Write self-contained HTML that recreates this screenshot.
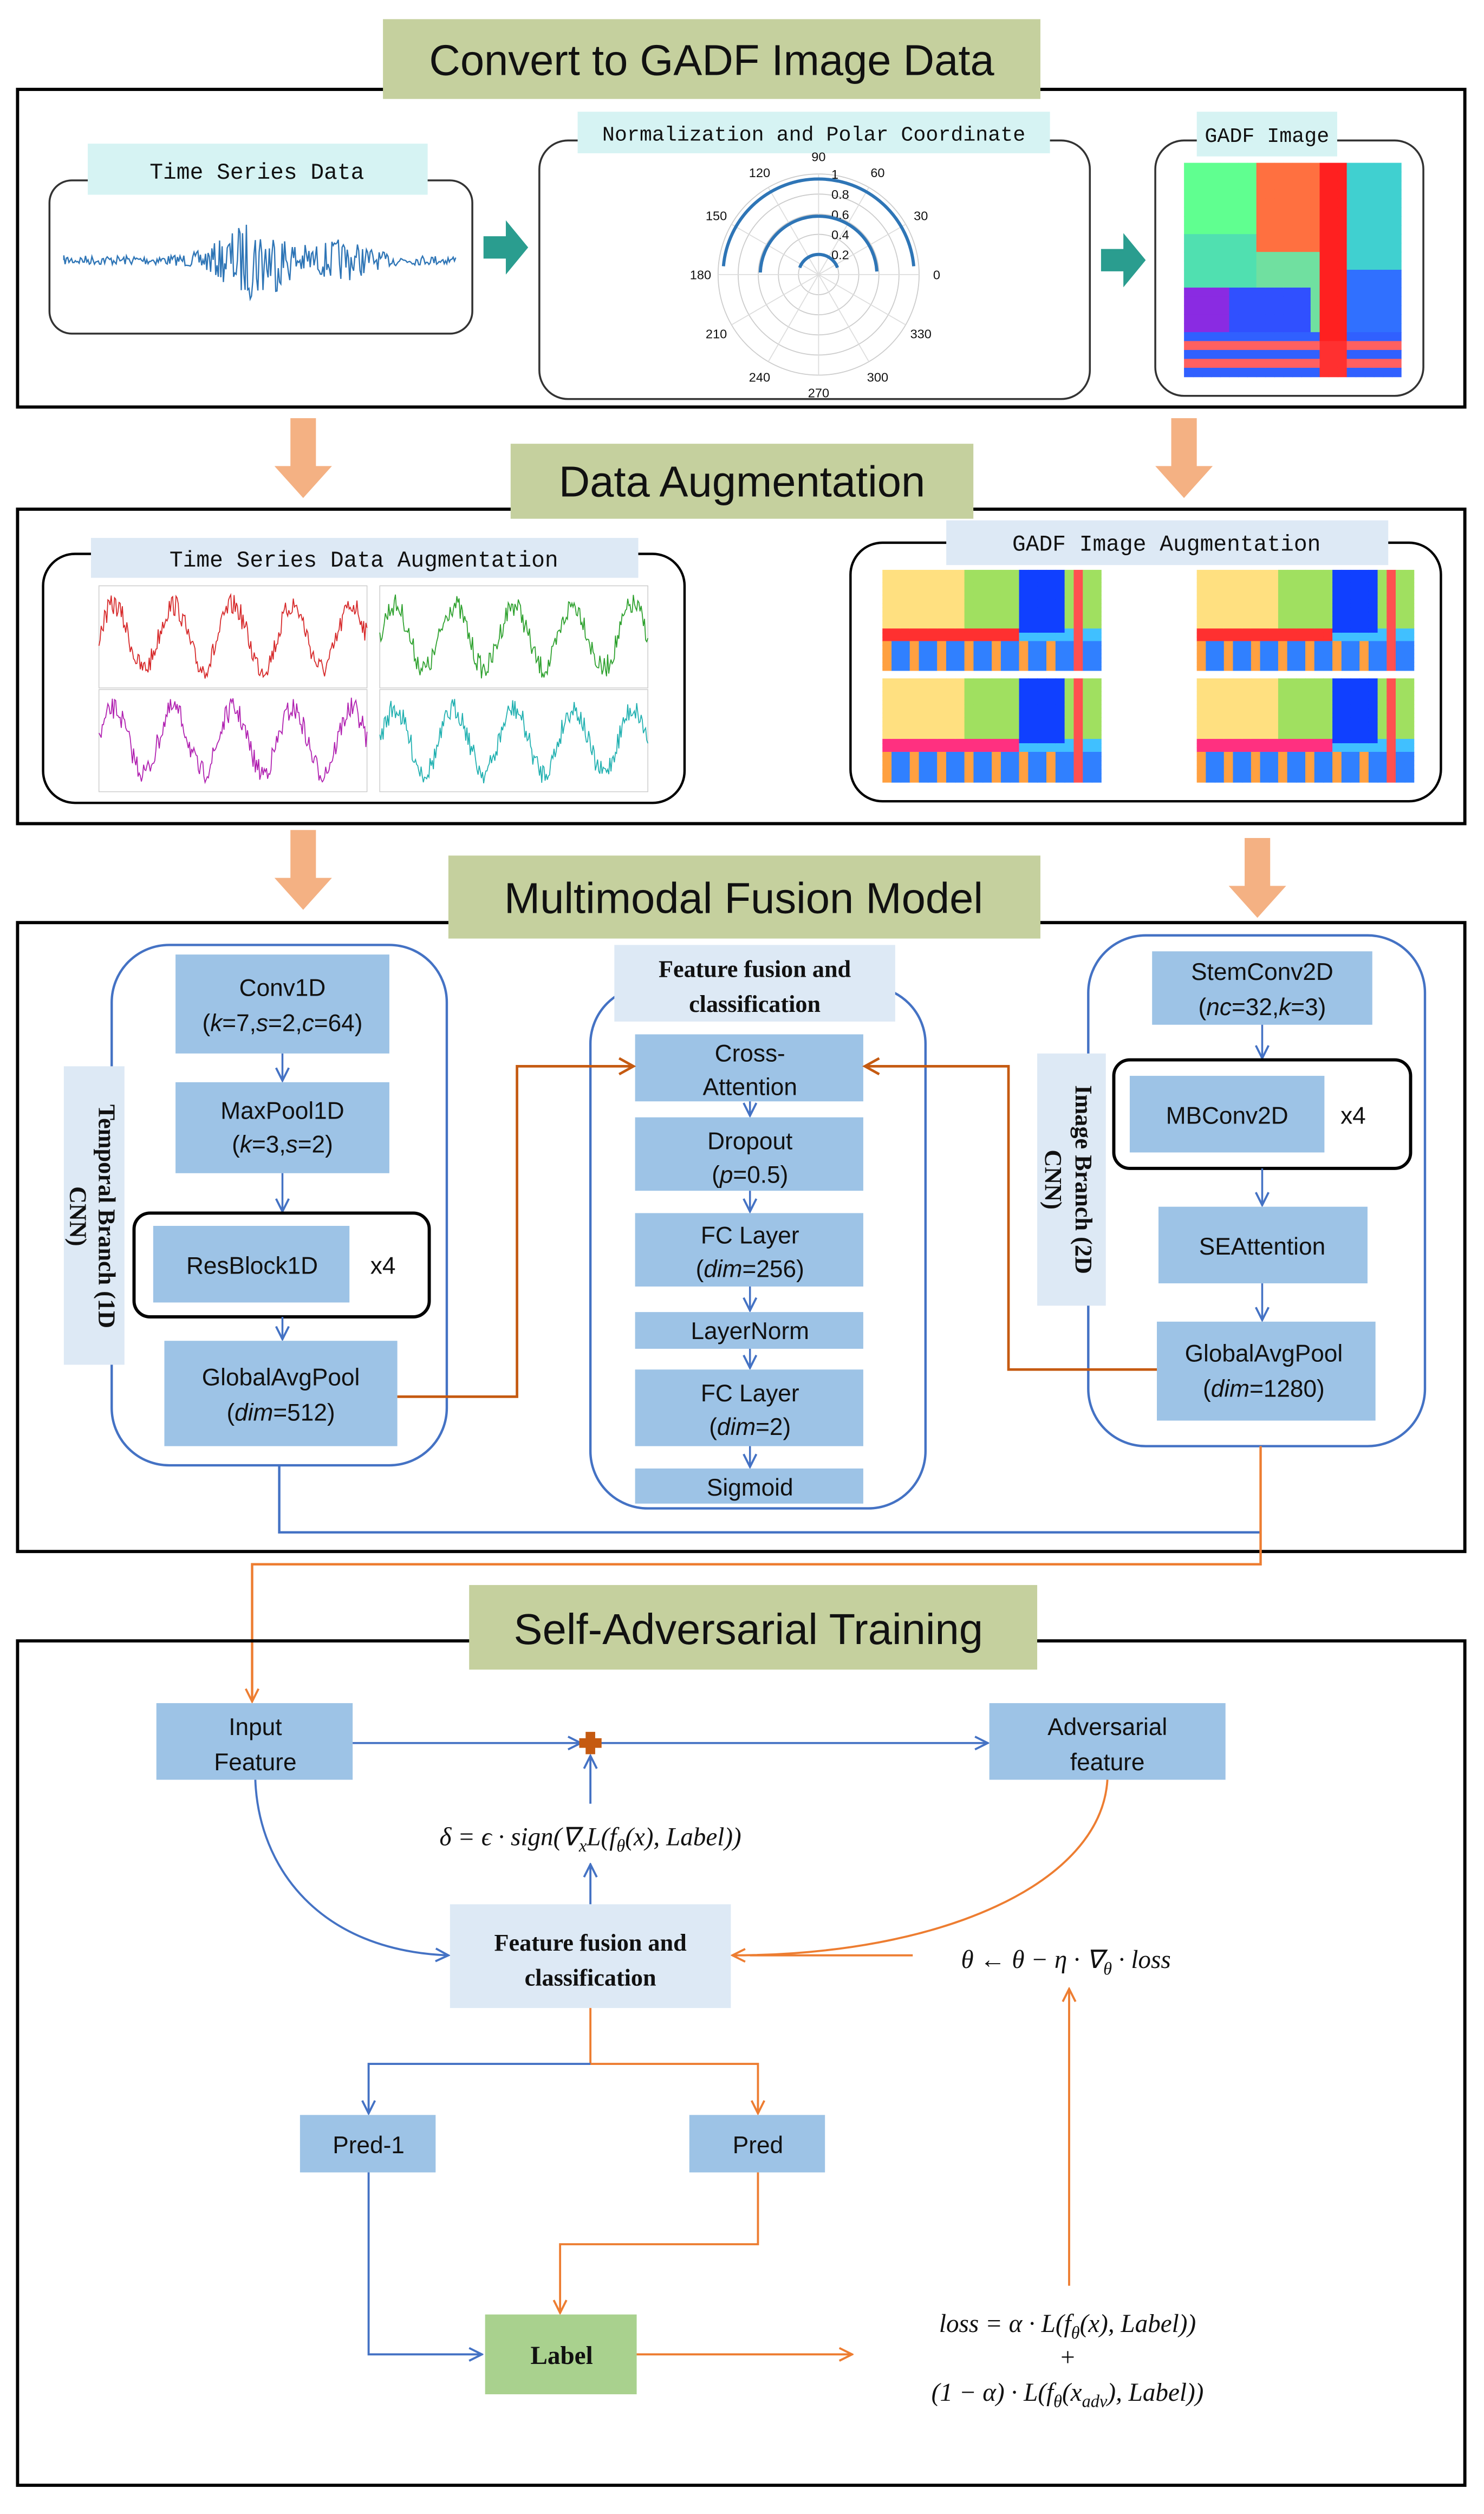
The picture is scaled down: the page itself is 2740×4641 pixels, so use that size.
<!DOCTYPE html>
<html><head><meta charset="utf-8">
<style>
html,body{margin:0;padding:0;background:#fff}
svg{display:block}
.t{font-family:"Liberation Sans Narrow","Liberation Sans",sans-serif;fill:#111}
.s{font-family:"Liberation Serif",serif;font-weight:bold;fill:#111}
.m{font-family:"Liberation Mono",monospace;fill:#111}
.f{font-family:"Liberation Serif",serif;font-style:italic;fill:#111}
.h{font-family:"Liberation Sans",sans-serif;fill:#111}
</style></head><body>
<svg id="sv" width="2740" height="4641" viewBox="0 0 930 1575" preserveAspectRatio="none" xmlns="http://www.w3.org/2000/svg">
<defs>
<marker id="ab" markerWidth="10" markerHeight="10" refX="9" refY="5" orient="auto" markerUnits="userSpaceOnUse"><path d="M1,1 L9,5 L1,9" fill="none" stroke="#4472c4" stroke-width="1.3"/></marker>
<marker id="ao" markerWidth="10" markerHeight="10" refX="9" refY="5" orient="auto" markerUnits="userSpaceOnUse"><path d="M1,1 L9,5 L1,9" fill="none" stroke="#ed7d31" stroke-width="1.3"/></marker>
<marker id="ar" markerWidth="12" markerHeight="12" refX="10" refY="6" orient="auto" markerUnits="userSpaceOnUse"><path d="M1,1 L10,6 L1,11" fill="none" stroke="#c55a11" stroke-width="1.6"/></marker>
</defs>
<rect width="930" height="1575" fill="#fff"/>

<!-- Section 1 -->
<rect x="11" y="56" width="907" height="199" fill="none" stroke="#000" stroke-width="2"/>
<rect x="240" y="12" width="412" height="50" fill="#c5d09e"/>
<text x="446" y="47" text-anchor="middle" class="h" font-size="27">Convert to GADF Image Data</text>

<rect x="31" y="113" width="265" height="96" rx="14" fill="#fff" stroke="#333" stroke-width="1.2"/>
<rect x="55" y="90" width="213" height="32" fill="#d6f3f3"/>
<text x="161" y="112" text-anchor="middle" class="m" font-size="14">Time Series Data</text>
<path id="ts" d="" fill="none" stroke="#2e75b6" stroke-width="0.8"/>

<path d="M303,148 h14 v-10 l14,17 l-14,17 v-10 h-14z" fill="#2a9d8f"/>

<rect x="338" y="88" width="345" height="162" rx="18" fill="#fff" stroke="#333" stroke-width="1.2"/>
<rect x="362" y="70" width="296" height="26" fill="#d6f3f3"/>
<text x="510" y="88" text-anchor="middle" class="m" font-size="13">Normalization and Polar Coordinate</text>
<g id="polar"></g>

<path d="M690,156 h14 v-10 l14,17 l-14,17 v-10 h-14z" fill="#2a9d8f"/>

<rect x="724" y="88" width="168" height="160" rx="18" fill="#fff" stroke="#333" stroke-width="1.2"/>
<rect x="750" y="70" width="88" height="28" fill="#d6f3f3"/>
<text x="794" y="89" text-anchor="middle" class="m" font-size="13">GADF Image</text>
<g id="gadf"></g>

<!-- orange big arrows -->
<path d="M182,262 h16 v30 h10 l-18,20 l-18,-20 h10z" fill="#f4b183"/>
<path d="M734,262 h16 v30 h10 l-18,20 l-18,-20 h10z" fill="#f4b183"/>

<!-- Section 2 -->
<rect x="11" y="319" width="907" height="197" fill="none" stroke="#000" stroke-width="2"/>
<rect x="320" y="278" width="290" height="47" fill="#c5d09e"/>
<text x="465" y="311" text-anchor="middle" class="h" font-size="27">Data Augmentation</text>

<rect x="27" y="347" width="402" height="156" rx="20" fill="#fff" stroke="#000" stroke-width="1.5"/>
<rect x="57" y="337" width="343" height="25" fill="#dde9f5"/>
<text x="228" y="355" text-anchor="middle" class="m" font-size="14">Time Series Data Augmentation</text>
<g id="aug"></g>

<rect x="533" y="340" width="370" height="162" rx="20" fill="#fff" stroke="#000" stroke-width="1.5"/>
<rect x="593" y="326" width="277" height="28" fill="#dde9f5"/>
<text x="731" y="345" text-anchor="middle" class="m" font-size="14">GADF Image Augmentation</text>
<g id="gaug"></g>

<path d="M182,520 h16 v30 h10 l-18,20 l-18,-20 h10z" fill="#f4b183"/>
<path d="M780,525 h16 v30 h10 l-18,20 l-18,-20 h10z" fill="#f4b183"/>

<!-- Section 3 -->
<rect x="11" y="578" width="907" height="394" fill="none" stroke="#000" stroke-width="2"/>
<rect x="281" y="536" width="371" height="52" fill="#c5d09e"/>
<text x="466" y="572" text-anchor="middle" class="h" font-size="27">Multimodal Fusion Model</text>

<!-- left branch -->
<rect x="70" y="592" width="210" height="326" rx="36" fill="none" stroke="#4472c4" stroke-width="1.5"/>
<rect x="40" y="668" width="38" height="187" fill="#dde9f5"/>
<text transform="translate(44,762) rotate(90)" text-anchor="middle" class="s" font-size="15">CNN)</text>
<text transform="translate(62,762) rotate(90)" text-anchor="middle" class="s" font-size="15">Temporal Branch (1D</text>
<rect x="110" y="598" width="134" height="62" fill="#9dc3e6"/>
<text x="177" y="624" text-anchor="middle" class="t" font-size="15">Conv1D</text>
<text x="177" y="646" text-anchor="middle" class="t" font-size="15">(<tspan font-style="italic">k</tspan>=7,<tspan font-style="italic">s</tspan>=2,<tspan font-style="italic">c</tspan>=64)</text>
<line x1="177" y1="660" x2="177" y2="677" stroke="#4472c4" stroke-width="1.2" marker-end="url(#ab)"/>
<rect x="110" y="678" width="134" height="57" fill="#9dc3e6"/>
<text x="177" y="701" text-anchor="middle" class="t" font-size="15">MaxPool1D</text>
<text x="177" y="722" text-anchor="middle" class="t" font-size="15">(<tspan font-style="italic">k</tspan>=3,<tspan font-style="italic">s</tspan>=2)</text>
<line x1="177" y1="735" x2="177" y2="759" stroke="#4472c4" stroke-width="1.2" marker-end="url(#ab)"/>
<rect x="84" y="760" width="185" height="65" rx="10" fill="#fff" stroke="#000" stroke-width="2"/>
<rect x="96" y="768" width="123" height="48" fill="#9dc3e6"/>
<text x="158" y="798" text-anchor="middle" class="t" font-size="15">ResBlock1D</text>
<text x="240" y="798" text-anchor="middle" class="t" font-size="15">x4</text>
<line x1="177" y1="825" x2="177" y2="839" stroke="#4472c4" stroke-width="1.2" marker-end="url(#ab)"/>
<rect x="103" y="840" width="146" height="66" fill="#9dc3e6"/>
<text x="176" y="868" text-anchor="middle" class="t" font-size="15">GlobalAvgPool</text>
<text x="176" y="890" text-anchor="middle" class="t" font-size="15">(<tspan font-style="italic">dim</tspan>=512)</text>

<!-- center -->
<rect x="370" y="618" width="210" height="327" rx="36" fill="none" stroke="#4472c4" stroke-width="1.5"/>
<rect x="385" y="592" width="176" height="48" fill="#dde9f5"/>
<text x="473" y="612" text-anchor="middle" class="s" font-size="15">Feature fusion and</text>
<text x="473" y="634" text-anchor="middle" class="s" font-size="15">classification</text>
<rect x="398" y="648" width="143" height="42" fill="#9dc3e6"/>
<text x="470" y="665" text-anchor="middle" class="t" font-size="15">Cross-</text>
<text x="470" y="686" text-anchor="middle" class="t" font-size="15">Attention</text>
<line x1="470" y1="690" x2="470" y2="699" stroke="#4472c4" stroke-width="1.2" marker-end="url(#ab)"/>
<rect x="398" y="700" width="143" height="46" fill="#9dc3e6"/>
<text x="470" y="720" text-anchor="middle" class="t" font-size="15">Dropout</text>
<text x="470" y="741" text-anchor="middle" class="t" font-size="15">(<tspan font-style="italic">p</tspan>=0.5)</text>
<line x1="470" y1="746" x2="470" y2="759" stroke="#4472c4" stroke-width="1.2" marker-end="url(#ab)"/>
<rect x="398" y="760" width="143" height="46" fill="#9dc3e6"/>
<text x="470" y="779" text-anchor="middle" class="t" font-size="15">FC Layer</text>
<text x="470" y="800" text-anchor="middle" class="t" font-size="15">(<tspan font-style="italic">dim</tspan>=256)</text>
<line x1="470" y1="806" x2="470" y2="821" stroke="#4472c4" stroke-width="1.2" marker-end="url(#ab)"/>
<rect x="398" y="822" width="143" height="23" fill="#9dc3e6"/>
<text x="470" y="839" text-anchor="middle" class="t" font-size="15">LayerNorm</text>
<line x1="470" y1="845" x2="470" y2="857" stroke="#4472c4" stroke-width="1.2" marker-end="url(#ab)"/>
<rect x="398" y="858" width="143" height="48" fill="#9dc3e6"/>
<text x="470" y="878" text-anchor="middle" class="t" font-size="15">FC Layer</text>
<text x="470" y="899" text-anchor="middle" class="t" font-size="15">(<tspan font-style="italic">dim</tspan>=2)</text>
<line x1="470" y1="906" x2="470" y2="919" stroke="#4472c4" stroke-width="1.2" marker-end="url(#ab)"/>
<rect x="398" y="920" width="143" height="22" fill="#9dc3e6"/>
<text x="470" y="937" text-anchor="middle" class="t" font-size="15">Sigmoid</text>

<!-- right branch -->
<rect x="682" y="586" width="211" height="320" rx="36" fill="none" stroke="#4472c4" stroke-width="1.5"/>
<rect x="650" y="660" width="43" height="158" fill="#dde9f5"/>
<text transform="translate(655,739) rotate(90)" text-anchor="middle" class="s" font-size="15">CNN)</text>
<text transform="translate(674,739) rotate(90)" text-anchor="middle" class="s" font-size="15">Image Branch (2D</text>
<rect x="722" y="596" width="138" height="46" fill="#9dc3e6"/>
<text x="791" y="614" text-anchor="middle" class="t" font-size="15">StemConv2D</text>
<text x="791" y="636" text-anchor="middle" class="t" font-size="15">(<tspan font-style="italic">nc</tspan>=32,<tspan font-style="italic">k</tspan>=3)</text>
<line x1="791" y1="642" x2="791" y2="663" stroke="#4472c4" stroke-width="1.2" marker-end="url(#ab)"/>
<rect x="698" y="664" width="186" height="68" rx="10" fill="#fff" stroke="#000" stroke-width="2"/>
<rect x="708" y="674" width="122" height="48" fill="#9dc3e6"/>
<text x="769" y="704" text-anchor="middle" class="t" font-size="15">MBConv2D</text>
<text x="848" y="704" text-anchor="middle" class="t" font-size="15">x4</text>
<line x1="791" y1="732" x2="791" y2="755" stroke="#4472c4" stroke-width="1.2" marker-end="url(#ab)"/>
<rect x="726" y="756" width="131" height="48" fill="#9dc3e6"/>
<text x="791" y="786" text-anchor="middle" class="t" font-size="15">SEAttention</text>
<line x1="791" y1="804" x2="791" y2="827" stroke="#4472c4" stroke-width="1.2" marker-end="url(#ab)"/>
<rect x="725" y="828" width="137" height="62" fill="#9dc3e6"/>
<text x="792" y="853" text-anchor="middle" class="t" font-size="15">GlobalAvgPool</text>
<text x="792" y="875" text-anchor="middle" class="t" font-size="15">(<tspan font-style="italic">dim</tspan>=1280)</text>

<polyline points="249,875 324,875 324,668 397,668" fill="none" stroke="#c55a11" stroke-width="1.6" marker-end="url(#ar)"/>
<polyline points="725,858 632,858 632,668 542,668" fill="none" stroke="#c55a11" stroke-width="1.6" marker-end="url(#ar)"/>
<polyline points="175,918 175,960 790,960" fill="none" stroke="#4472c4" stroke-width="1.5"/>
<polyline points="790,906 790,980 158,980 158,1066" fill="none" stroke="#ed7d31" stroke-width="1.5" marker-end="url(#ao)"/>

<!-- Section 4 -->
<rect x="11" y="1028" width="907" height="529" fill="none" stroke="#000" stroke-width="2"/>
<rect x="294" y="993" width="356" height="53" fill="#c5d09e"/>
<text x="469" y="1030" text-anchor="middle" class="h" font-size="27">Self-Adversarial Training</text>

<rect x="98" y="1067" width="123" height="48" fill="#9dc3e6"/>
<text x="160" y="1087" text-anchor="middle" class="t" font-size="15">Input</text>
<text x="160" y="1109" text-anchor="middle" class="t" font-size="15">Feature</text>
<rect x="620" y="1067" width="148" height="48" fill="#9dc3e6"/>
<text x="694" y="1087" text-anchor="middle" class="t" font-size="15">Adversarial</text>
<text x="694" y="1109" text-anchor="middle" class="t" font-size="15">feature</text>
<line x1="221" y1="1092" x2="364" y2="1092" stroke="#4472c4" stroke-width="1.3" marker-end="url(#ab)"/>
<line x1="376" y1="1092" x2="619" y2="1092" stroke="#4472c4" stroke-width="1.3" marker-end="url(#ab)"/>
<path d="M367,1085 h6 v4 h4 v6 h-4 v4 h-6 v-4 h-4 v-6 h4z" fill="#c55a11"/>
<line x1="370" y1="1130" x2="370" y2="1100" stroke="#4472c4" stroke-width="1.3" marker-end="url(#ab)"/>
<text x="370" y="1156" text-anchor="middle" class="f" font-size="16">δ = ϵ · sign(∇<tspan font-size="11" dy="4">x</tspan><tspan dy="-4">L(f</tspan><tspan font-size="11" dy="4">θ</tspan><tspan dy="-4">(x), Label))</tspan></text>
<line x1="370" y1="1193" x2="370" y2="1168" stroke="#4472c4" stroke-width="1.3" marker-end="url(#ab)"/>
<rect x="282" y="1193" width="176" height="65" fill="#dde9f5"/>
<text x="370" y="1222" text-anchor="middle" class="s" font-size="15">Feature fusion and</text>
<text x="370" y="1244" text-anchor="middle" class="s" font-size="15">classification</text>
<path d="M160,1115 C162,1170 200,1222 281,1225" fill="none" stroke="#4472c4" stroke-width="1.3" marker-end="url(#ab)"/>
<path d="M694,1115 C690,1180 590,1225 459,1225" fill="none" stroke="#ed7d31" stroke-width="1.3" marker-end="url(#ao)"/>
<line x1="572" y1="1225" x2="470" y2="1225" stroke="#ed7d31" stroke-width="1.3"/>
<text x="668" y="1233" text-anchor="middle" class="f" font-size="16">θ ← θ − η · ∇<tspan font-size="11" dy="4">θ</tspan><tspan dy="-4"> · loss</tspan></text>

<polyline points="370,1258 370,1293 475,1293 475,1324" fill="none" stroke="#ed7d31" stroke-width="1.3" marker-end="url(#ao)"/>
<polyline points="370,1293 231,1293 231,1324" fill="none" stroke="#4472c4" stroke-width="1.3" marker-end="url(#ab)"/>
<rect x="188" y="1325" width="85" height="36" fill="#9dc3e6"/>
<text x="231" y="1349" text-anchor="middle" class="t" font-size="15">Pred-1</text>
<rect x="432" y="1325" width="85" height="36" fill="#9dc3e6"/>
<text x="475" y="1349" text-anchor="middle" class="t" font-size="15">Pred</text>
<polyline points="231,1361 231,1475 302,1475" fill="none" stroke="#4472c4" stroke-width="1.3" marker-end="url(#ab)"/>
<polyline points="475,1361 475,1406 351,1406 351,1449" fill="none" stroke="#ed7d31" stroke-width="1.3" marker-end="url(#ao)"/>
<rect x="304" y="1450" width="95" height="50" fill="#a9d18e"/>
<text x="352" y="1481" text-anchor="middle" class="s" font-size="16">Label</text>
<line x1="399" y1="1475" x2="534" y2="1475" stroke="#ed7d31" stroke-width="1.3" marker-end="url(#ao)"/>
<text x="669" y="1461" text-anchor="middle" class="f" font-size="16">loss = α · L(f<tspan font-size="11" dy="4">θ</tspan><tspan dy="-4">(x), Label))</tspan></text>
<text x="669" y="1482" text-anchor="middle" class="f" font-size="16">+</text>
<text x="669" y="1504" text-anchor="middle" class="f" font-size="16">(1 − α) · L(f<tspan font-size="11" dy="4">θ</tspan><tspan dy="-4">(x</tspan><tspan font-size="11" dy="4">adv</tspan><tspan dy="-4">), Label))</tspan></text>
<line x1="670" y1="1432" x2="670" y2="1246" stroke="#ed7d31" stroke-width="1.3" marker-end="url(#ao)"/>
</svg>
<script>
var NS="http://www.w3.org/2000/svg";
function el(t,a,p){var e=document.createElementNS(NS,t);for(var k in a)e.setAttribute(k,a[k]);(p||document.getElementById('sv')).appendChild(e);return e;}
var seed=7;function rnd(){seed=(seed*16807)%2147483647;return seed/2147483647;}
// time series
var d="M40,163";for(var x=40;x<=286;x+=0.8){var c=Math.exp(-Math.pow((x-160)/25,2))*22+Math.exp(-Math.pow((x-215)/20,2))*10+3;d+=" L"+x.toFixed(1)+","+(163+(rnd()-0.5)*2*c).toFixed(1);}
document.getElementById('ts').setAttribute('d',d);
// polar
var g=document.getElementById('polar'),cx=513,cy=172,R=63;
for(var r=1;r<=5;r++)el('circle',{cx:cx,cy:cy,r:R*r/5,fill:'none',stroke:'#ccc','stroke-width':0.6},g);
for(var a=0;a<360;a+=30){var t=a*Math.PI/180;el('line',{x1:cx,y1:cy,x2:cx+R*Math.cos(t),y2:cy-R*Math.sin(t),stroke:'#ddd','stroke-width':0.6},g);
var tx=el('text',{x:cx+(R+11)*Math.cos(t),y:cy-(R+11)*Math.sin(t)+3,'text-anchor':'middle','font-size':8,'class':'h'},g);tx.textContent=a;}
[['0.2',0.2],['0.4',0.4],['0.6',0.6],['0.8',0.8],['1',1]].forEach(function(p){var tx=el('text',{x:cx+8,y:cy-R*p[1]+3,'font-size':8,'class':'h'},g);tx.textContent=p[0];});
[[0.95,175,5],[0.58,178,3],[0.2,160,20]].forEach(function(p){var r=R*p[0],a1=p[1]*Math.PI/180,a2=p[2]*Math.PI/180;el('path',{d:'M'+(cx+r*Math.cos(a1))+','+(cy-r*Math.sin(a1))+' A'+r+','+r+' 0 0 1 '+(cx+r*Math.cos(a2))+','+(cy-r*Math.sin(a2)),fill:'none',stroke:'#2e75b6','stroke-width':2},g);});
// heatmap gadf
function heat(gp,x0,y0,w,h,style){var n=24,cw=w/n,ch=h/n;
for(var i=0;i<n;i++)for(var j=0;j<n;j++){var col;
if(style==0){var u=i/n,v=j/n;
if(u>0.62&&u<0.72)col=v>0.82?'#ff3030':'#ff2020';else if(v>0.78)col=(j%2?'#3060ff':'#ff6060');else if(v>0.55&&u<0.55)col=u<0.2?'#8a2be2':'#3050ff';else if(u>0.3&&u<0.62)col=v<0.4?'#ff7040':'#70e0a0';else if(u>0.72)col=v<0.5?'#40d0d0':'#3070ff';else col=v<0.3?'#60ff90':'#50e0b0';}
else{var u=i/n,v=j/n;
if(u>0.85&&u<0.9)col='#ff5050';else if(u>0.6&&u<0.82&&v<0.6)col='#1040ff';else if(v>0.55&&v<0.7)col=(u<0.6?'#ff3030':'#40c0ff');else if(v>0.7)col=(i%3?'#3080ff':'#ffa040');else col=u<0.35?'#ffe080':'#a0e060';
if(style==2&&v>0.55&&v<0.7&&u<0.6)col='#ff3080';}
el('rect',{x:x0+i*cw,y:y0+j*ch,width:cw+0.3,height:ch+0.3,fill:col},gp);}}
heat(document.getElementById('gadf'),742,102,136,134,0);
var ga=document.getElementById('gaug');
heat(ga,553,357,137,63,1);heat(ga,750,357,136,63,1);heat(ga,553,425,137,65,2);heat(ga,750,425,136,65,2);
// aug charts
var ag=document.getElementById('aug');
[[62,367,'#d62728'],[238,367,'#2ca02c'],[62,432,'#b020b0'],[238,432,'#20b0b0']].forEach(function(p){
el('rect',{x:p[0],y:p[1],width:168,height:64,fill:'#fff',stroke:'#ccc','stroke-width':0.5},ag);
var d='';for(var k=0;k<=168;k+=0.7){var y=p[1]+32-20*Math.sin(k/168*Math.PI*2*4.5)+(rnd()-0.5)*14;d+=(k?' L':'M')+(p[0]+k).toFixed(1)+','+y.toFixed(1);}
el('path',{d:d,fill:'none',stroke:p[2],'stroke-width':0.6},ag);});
</script>
</body></html>
